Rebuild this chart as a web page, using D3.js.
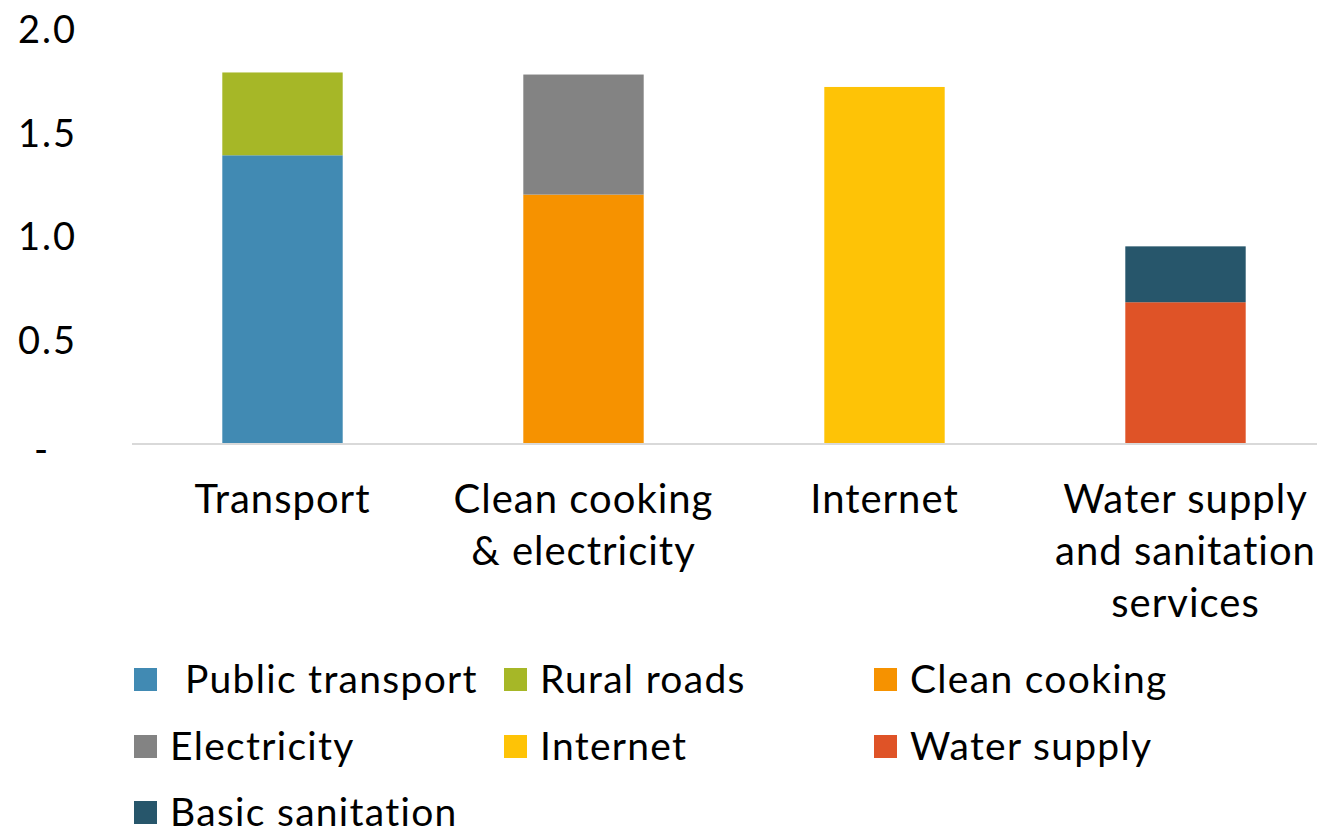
<!DOCTYPE html>
<html>
    <head>
        <meta charset="utf-8">
        <title>Stacked bars</title>
        <script type="text/javascript" src="https://d3js.org/d3.v7.min.js"></script>
        <style>
            body {margin: 0; background: #fff;}
            svg text {font-family: Lato, "Open Sans", sans-serif; fill: #000; font-variant-ligatures: none;}
        </style>
    </head>
    <body>
        <script>
            // categories (one array of lines per label)
            var categories = ["Transport", "Clean cooking & electricity", "Internet", "Water supply and sanitation services"];
            var categoryLines = [["Transport"], ["Clean cooking", "& electricity"], ["Internet"], ["Water supply", "and sanitation", "services"]];

            // series values, one per category
            var seriesNames = ["Public transport", "Rural roads", "Clean cooking", "Electricity", "Internet", "Water supply", "Basic sanitation"];
            var publicTransport = [1.39, 0, 0, 0];
            var ruralRoads      = [0.40, 0, 0, 0];
            var cleanCooking    = [0, 1.20, 0, 0];
            var electricity     = [0, 0.58, 0, 0];
            var internet        = [0, 0, 1.72, 0];
            var waterSupply     = [0, 0, 0, 0.68];
            var basicSanitation = [0, 0, 0, 0.27];
            var seriesColors = ["#418ab3", "#a6b727", "#f69200", "#838383", "#fec306", "#df5327", "#27566b"];

            var yTicks = [0, 0.5, 1.0, 1.5, 2.0];

            var allSeries = [publicTransport, ruralRoads, cleanCooking, electricity, internet, waterSupply, basicSanitation];

            // table for d3.stack
            var table = categories.map(function(c, i) {
                var row = {category: c};
                seriesNames.forEach(function(s, j) { row[s] = allSeries[j][i]; });
                return row;
            });

            var width = 1317, height = 833;
            var svg = d3.select("body").append("svg")
                .attr("width", width)
                .attr("height", height);

            var x = d3.scaleBand()
                .domain(categories)
                .range([132, 1336])
                .paddingInner(0.6)
                .paddingOuter(0.3);

            var y = d3.scaleLinear()
                .domain([0, 2])
                .range([443, 29]);

            var color = d3.scaleOrdinal().domain(seriesNames).range(seriesColors);

            var stacked = d3.stack().keys(seriesNames)(table);

            // bars
            svg.append("g").selectAll("g")
                .data(stacked)
                .enter().append("g")
                    .attr("fill", function(d) { return color(d.key); })
                .selectAll("rect")
                .data(function(d) { return d.filter(function(p) { return p[1] - p[0] > 0; }); })
                .enter().append("rect")
                    .attr("x", function(d) { return x(d.data.category); })
                    .attr("width", x.bandwidth())
                    .attr("y", function(d) { return y(d[1]); })
                    .attr("height", function(d) { return y(d[0]) - y(d[1]); });

            // baseline
            svg.append("line")
                .attr("x1", 132).attr("x2", width)
                .attr("y1", y(0) + 1).attr("y2", y(0) + 1)
                .attr("stroke", "#d9d9d9")
                .attr("stroke-width", 2);

            // y axis labels
            var yAxis = svg.append("g")
                .attr("transform", "translate(77,0)")
                .call(d3.axisLeft(y).tickValues(yTicks).tickSize(0).tickPadding(0)
                    .tickFormat(function(d) { return d === 0 ? "-" : d3.format(".1f")(d); }));
            yAxis.select(".domain").remove();
            yAxis.selectAll("text")
                .style("font-size", "38px")
                .style("font-family", "Lato, sans-serif")
                .style("letter-spacing", "2px")
                .attr("fill", "#000")
                .attr("dy", "0.36em");
            yAxis.selectAll(".tick").filter(function(d) { return d === 0; }).select("text")
                .attr("x", -27)
                .attr("dy", "0.5em");

            // x axis labels
            var xl = svg.append("g").selectAll("text")
                .data(categories)
                .enter().append("text")
                    .attr("x", function(d) { return x(d) + x.bandwidth() / 2; })
                    .attr("y", 513)
                    .attr("text-anchor", "middle")
                    .style("font-size", "40px")
                    .style("letter-spacing", "1px");
            xl.each(function(d, i) {
                var t = d3.select(this);
                categoryLines[i].forEach(function(line, k) {
                    t.append("tspan")
                        .attr("x", x(d) + x.bandwidth() / 2)
                        .attr("dy", k === 0 ? 0 : 52)
                        .text(line);
                });
            });

            // legend
            var legendCols = [134, 504, 874];
            var legendRows = [680, 747, 813];
            var legend = svg.append("g").selectAll("g")
                .data(seriesNames)
                .enter().append("g")
                    .attr("transform", function(d, i) {
                        return "translate(" + legendCols[i % 3] + "," + legendRows[Math.floor(i / 3)] + ")";
                    });
            legend.append("rect")
                .attr("x", 0).attr("y", -12)
                .attr("width", 23).attr("height", 23)
                .attr("fill", function(d) { return color(d); });
            legend.append("text")
                .attr("x", function(d, i) { return i === 0 ? 51 : 36; })
                .attr("y", 13)
                .style("font-size", "39px")
                .style("letter-spacing", "1.3px")
                .text(function(d) { return d; });
        </script>
    </body>
</html>
